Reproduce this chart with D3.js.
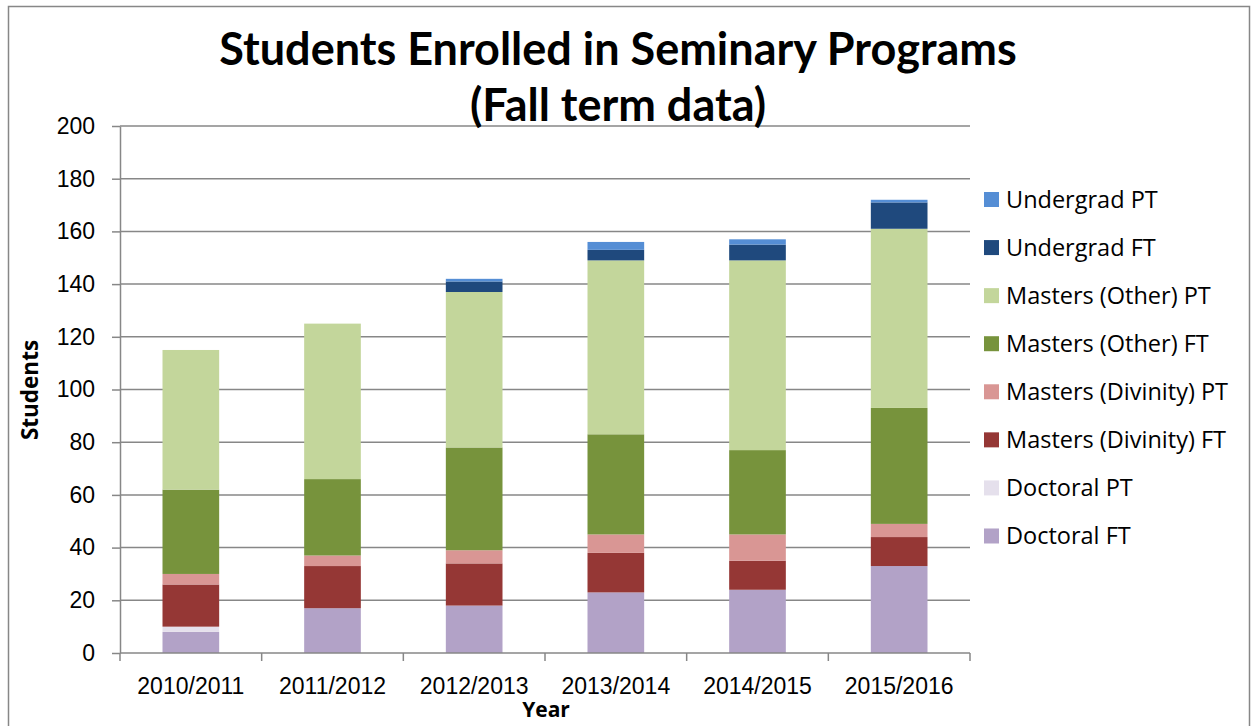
<!DOCTYPE html>
<html>
  <head>
    <meta charset="utf-8">
    <title>Students Enrolled in Seminary Programs</title>
    <script src="https://cdn.jsdelivr.net/npm/d3@7"></script>
    <style>
      body { margin: 0; background: #fff; }
      svg { display: block; font-family: "Open Sans", Lato, sans-serif; }
      .grid line { stroke: #878787; stroke-width: 1.5; }
      .axis path, .axis line { stroke: #878787; stroke-width: 1.5; }
      .axis text { font-size: 23px; fill: #000; }
    </style>
  </head>
  <body>
    <svg id="chart" width="1253" height="726"></svg>

    <script>
      // data
      years = ["2010/2011", "2011/2012", "2012/2013", "2013/2014", "2014/2015", "2015/2016"];
      series = ["Doctoral FT", "Doctoral PT", "Masters (Divinity) FT", "Masters (Divinity) PT",
                "Masters (Other) FT", "Masters (Other) PT", "Undergrad FT", "Undergrad PT"];
      colours = ["#b2a2c7", "#e5e0ec", "#953735", "#d99694", "#77933c", "#c3d69b", "#1f497d", "#558ed5"];

      doctoralFT = [8, 17, 18, 23, 24, 33];
      doctoralPT = [2, 0, 0, 0, 0, 0];
      divinityFT = [16, 16, 16, 15, 11, 11];
      divinityPT = [4, 4, 5, 7, 10, 5];
      otherFT = [32, 29, 39, 38, 32, 44];
      otherPT = [53, 59, 59, 66, 72, 68];
      undergradFT = [0, 0, 4, 4, 6, 10];
      undergradPT = [0, 0, 1, 3, 2, 1];

      yTicks = [0, 20, 40, 60, 80, 100, 120, 140, 160, 180, 200];

      // table for the stack
      values = [doctoralFT, doctoralPT, divinityFT, divinityPT, otherFT, otherPT, undergradFT, undergradPT];
      table = years.map(function(y, i) {
        let row = {year: y};
        series.forEach((s, j) => row[s] = values[j][i]);
        return row;
      });
      stacked = d3.stack().keys(series)(table);

      chart = d3.select("#chart");

      // outer frame
      chart.append("rect")
        .attr("x", 8.5).attr("y", 6.5)
        .attr("width", 1241).attr("height", 730)
        .attr("fill", "none")
        .attr("stroke", "#878787")
        .attr("stroke-width", 1.5);

      margin = {left: 120, right: 970, top: 126, bottom: 653};

      scaleX = d3.scaleBand()
        .domain(years)
        .range([margin.left, margin.right])
        .paddingInner(0.6)
        .paddingOuter(0.3);

      scaleY = d3.scaleLinear()
        .domain([0, 200])
        .range([margin.bottom, margin.top]);

      colour = d3.scaleOrdinal().domain(series).range(colours);

      // gridlines
      chart.append("g")
        .classed("grid", true)
        .selectAll("line")
          .data(yTicks.slice(1))
        .enter().append("line")
          .attr("x1", margin.left)
          .attr("x2", margin.right)
          .attr("y1", d => scaleY(d))
          .attr("y2", d => scaleY(d));

      // bars
      chart.append("g")
        .selectAll("g")
          .data(stacked)
        .enter().append("g")
          .attr("fill", d => colour(d.key))
        .selectAll("rect")
          .data(d => d)
        .enter().append("rect")
          .attr("x", d => scaleX(d.data.year))
          .attr("width", scaleX.bandwidth())
          .attr("y", d => scaleY(d[1]))
          .attr("height", d => scaleY(d[0]) - scaleY(d[1]));

      // y axis
      axisY = d3.axisLeft(scaleY)
        .tickValues(yTicks)
        .tickSize(8)
        .tickSizeOuter(0)
        .tickPadding(17);
      chart.append("g")
        .classed("axis", true)
        .attr("transform", "translate(" + margin.left + ",0)")
        .call(axisY);

      // x axis, ticks at the category boundaries
      chart.append("g")
        .classed("axis", true)
        .attr("transform", "translate(0," + margin.bottom + ")")
        .call(d3.axisBottom(scaleX).tickSize(0).tickPadding(25))
        .call(g => g.select(".domain").attr("d", "M" + margin.left + ",0H" + margin.right))
        .call(g => g.selectAll(".boundary")
          .data(d3.range(years.length + 1))
          .enter().append("line")
            .attr("x1", d => margin.left + d * scaleX.step())
            .attr("x2", d => margin.left + d * scaleX.step())
            .attr("y1", 0)
            .attr("y2", 8));

      // title
      chart.append("text")
        .attr("x", 618).attr("y", 65)
        .attr("text-anchor", "middle")
        .style("font-family", "Lato, sans-serif")
        .style("font-size", "45px")
        .style("font-weight", "bold")
        .text("Students Enrolled in Seminary Programs");
      chart.append("text")
        .attr("x", 618).attr("y", 121)
        .attr("text-anchor", "middle")
        .style("font-family", "Lato, sans-serif")
        .style("font-size", "45px")
        .style("font-weight", "bold")
        .text("(Fall term data)");

      // axis titles
      chart.append("text")
        .attr("transform", "translate(38,390) rotate(-90)")
        .attr("text-anchor", "middle")
        .style("font-size", "22.5px")
        .style("font-weight", "bold")
        .text("Students");
      chart.append("text")
        .attr("x", 546).attr("y", 717)
        .attr("text-anchor", "middle")
        .style("font-size", "21px")
        .style("font-weight", "bold")
        .text("Year");

      // legend, top entry first
      legend = chart.append("g")
        .selectAll("g")
          .data(series.slice().reverse())
        .enter().append("g")
          .attr("transform", (d, i) => "translate(984," + (199.5 + i * 48.07) + ")");
      legend.append("rect")
        .attr("x", 0).attr("y", -7.5)
        .attr("width", 15).attr("height", 15)
        .attr("fill", d => colour(d));
      legend.append("text")
        .attr("x", 22).attr("y", 8)
        .style("font-size", "23.5px")
        .text(d => d);
    </script>
  </body>
</html>
